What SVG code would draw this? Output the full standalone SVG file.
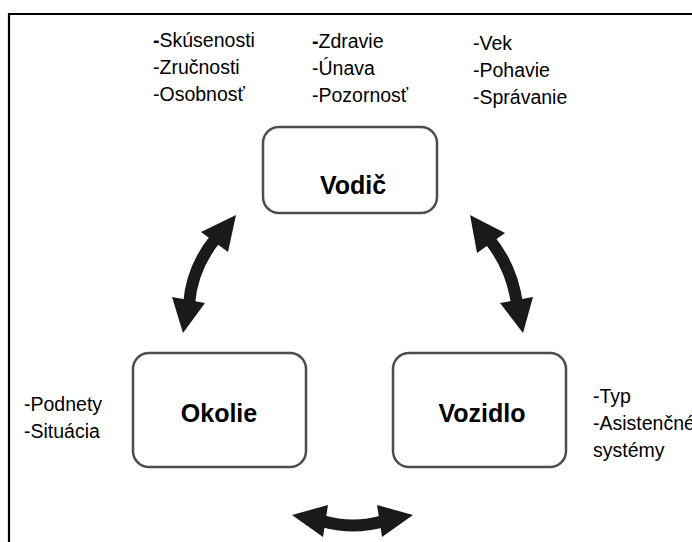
<svg xmlns="http://www.w3.org/2000/svg" width="692" height="542" viewBox="0 0 692 542">
<style>
.box{fill:#fff;stroke:#4d4d4d;stroke-width:2.5}
.title{font-family:"Liberation Sans",Arial,sans-serif;font-weight:bold;font-size:25px;fill:#000;text-anchor:middle}
.lbl{font-family:"Liberation Sans",Arial,sans-serif;font-size:19.5px;fill:#000}
.shaft{fill:none;stroke:#1a1a1a;stroke-width:12}
.head{fill:#1a1a1a}
</style>
<rect width="692" height="542" fill="#fff"/>
<path d="M9 542 V14 H692" fill="none" stroke="#000" stroke-width="2.2"/>
<g id="vodic">
<rect class="box" x="263" y="127" width="174" height="86" rx="16"/>
<text class="title" x="353" y="194">Vodič</text>
</g>
<g id="okolie">
<rect class="box" x="133" y="353" width="173" height="114" rx="16"/>
<text class="title" x="219" y="422">Okolie</text>
</g>
<g id="vozidlo">
<rect class="box" x="393" y="353" width="173" height="114" rx="16"/>
<text class="title" x="482" y="422">Vozidlo</text>
</g>
<g id="labels">
<text class="lbl" x="153" y="47"><tspan font-weight="bold">-</tspan>Skúsenosti</text>
<text class="lbl" x="153" y="74">-Zručnosti</text>
<text class="lbl" x="153" y="101">-Osobnosť</text>
<text class="lbl" x="312" y="48"><tspan font-weight="bold">-</tspan>Zdravie</text>
<text class="lbl" x="312" y="75">-Únava</text>
<text class="lbl" x="312" y="102">-Pozornosť</text>
<text class="lbl" x="473" y="50">-Vek</text>
<text class="lbl" x="473" y="77">-Pohavie</text>
<text class="lbl" x="473" y="104">-Správanie</text>
<text class="lbl" x="24" y="411">-Podnety</text>
<text class="lbl" x="24" y="438">-Situácia</text>
<text class="lbl" x="593" y="403">-Typ</text>
<text class="lbl" x="593" y="430">-Asistenčné</text>
<text class="lbl" x="593" y="457">systémy</text>
</g>
<g id="connectors">
<path class="shaft" d="M216 238 Q192 267 189 304"/>
<polygon class="head" points="236,215 201,232 228,252"/>
<polygon class="head" points="183,333 172,297 205,303"/>
<path class="shaft" d="M489 239 Q512 267 517 304"/>
<polygon class="head" points="470,215 505,233 477,253"/>
<polygon class="head" points="523,333 500,303 533,297"/>
<path class="shaft" d="M322 521 Q353 530 384 521"/>
<polygon class="head" points="292,515 328,505 323,537"/>
<polygon class="head" points="413,515 377,505 382,537"/>
</g>
</svg>
